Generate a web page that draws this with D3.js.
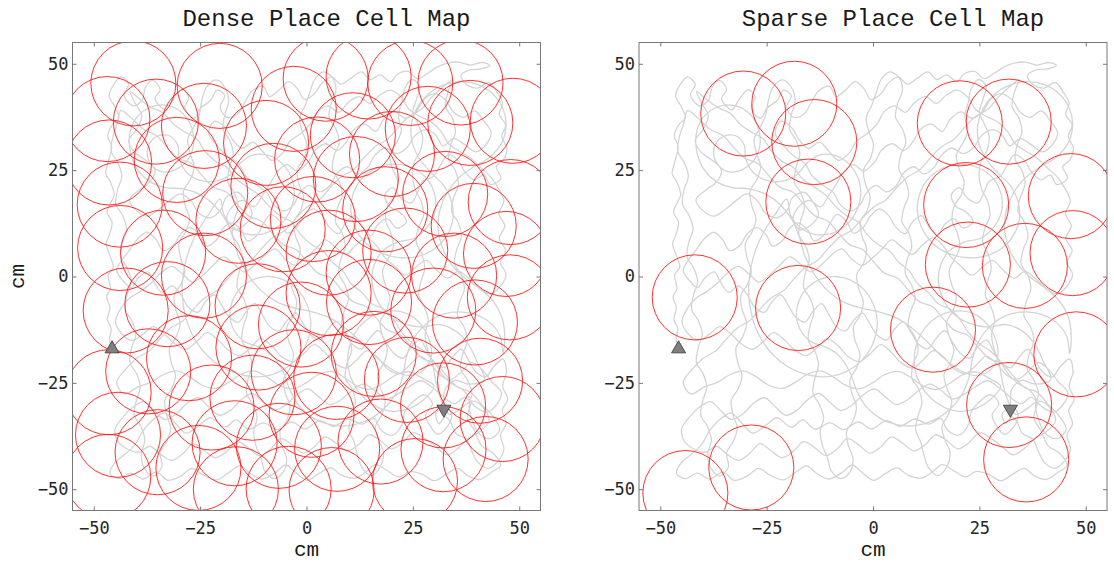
<!DOCTYPE html>
<html>
<head>
<meta charset="utf-8" />
<title>Place cell maps</title>
<script src="https://cdn.jsdelivr.net/npm/d3@7"></script>
<style>
    body { margin: 0; background: #fff; }
    .tick line { stroke: #777; }
    .tick text { font-family: "DejaVu Sans Mono", monospace; font-size: 17px; fill: #262626; }
    .title { font-family: "Liberation Mono", monospace; font-size: 24px; fill: #1a1a1a; }
    .label { font-family: "Liberation Mono", monospace; font-size: 21px; fill: #1a1a1a; }
</style>
</head>
<body>
<script>
// axis ticks (cm)
var tickValues = [-50, -25, 0, 25, 50];

// place field centres, dense map
var denseCells = [
    [-40.7,45.4],[-20.4,44.8],[4.5,46.5],[14.6,47.0],[24.4,45.5],[36.2,45.6],
    [-46.8,37.0],[-35.4,36.4],[-24.1,35.4],[-3.0,39.4],[-9.5,31.4],[10.9,33.2],[28.5,34.7],[38.5,36.1],[48.5,36.6],
    [-46.4,26.8],[-30.5,27.4],[2.5,27.5],[20.1,28.8],
    [-43.9,16.9],[-23.8,19.6],[-7.8,21.3],[11.6,22.9],[32.6,19.4],[48.0,17.5],[18.5,15.8],
    [-16.0,13.1],[-5.6,11.1],[1.5,13.5],[39.3,11.9],
    [-43.8,6.7],[-33.7,5.6],[5.2,5.6],[23.2,6.1],[46.9,5.3],
    [-24.1,0.2],[14.6,0.9],[34.7,0.2],
    [-42.5,-8.0],[-32.7,-6.5],[-11.5,-7.0],[5.2,-3.9],[29.8,-8.0],[47.8,-4.9],[14.7,-6.0],
    [-1.3,-11.3],[39.6,-10.8],
    [-27.6,-19.2],[-11.3,-16.7],[15.8,-18.2],
    [-37.2,-22.3],[-3.0,-22.5],[7.0,-23.6],[23.6,-24.3],[40.8,-24.5],
    [-46.5,-27.2],[-12.7,-28.5],
    [-22.3,-30.8],[1.2,-32.5],[32.1,-30.3],[46.1,-33.5],
    [-44.3,-37.2],[-35.0,-41.3],[-16.9,-39.2],[-6.5,-39.8],[7.2,-40.5],[17.4,-38.8],[32.2,-40.6],[42.1,-42.9],
    [-25.4,-45.0],[-46.6,-47.1],[25.5,-48.1],
    [-16.6,-50.0],[-4.2,-49.9],[5.9,-50.2]
];

// place field centres, sparse map
var sparseCells = [
    [-30.5,38.3],[-18.5,40.6],[-13.8,31.6],[-15.2,17.6],[20.4,36.0],[31.9,36.4],
    [21.9,16.8],[46.5,18.9],[22.3,2.8],[35.7,2.5],[46.9,5.5],
    [-41.9,-4.9],[-17.6,-7.4],[14.1,-12.5],[47.8,-18.3],
    [32.0,-30.2],[36.0,-43.0],[-28.6,-44.9],[-44.1,-50.9]
];

var fieldRadius = 10;

// start / end of the run
var startPoint = [-45.7, -17.0];
var endPoint = [32.3, -31.2];

// animal path (cm)
var trajectory = [
    [-45.7,-17.0],[-46.3,-14.9],[-45.9,-12.2],[-46.8,-10.1],[-46.2,-7.3],[-47.0,-4.8],[-46.1,-2.9],[-46.6,0.4],[-45.4,2.2],[-46.2,4.9],
    [-47.1,7.7],[-46.4,9.6],[-45.7,12.8],[-46.9,15.1],[-46.0,17.4],[-45.2,19.2],[-46.3,22.6],[-47.2,24.1],[-46.5,27.3],[-45.8,30.6],
    [-46.7,33.0],[-45.5,35.9],[-44.1,37.2],[-45.0,39.8],[-46.4,42.5],[-45.3,45.1],[-43.6,46.9],[-41.8,45.2],[-42.9,42.6],[-40.7,40.1],
    [-38.6,41.5],[-37.9,44.3],[-36.2,46.1],[-34.4,44.0],[-35.6,41.8],[-33.1,39.2],[-31.6,41.4],[-29.3,43.9],[-27.7,42.1],[-28.6,39.5],
    [-26.4,37.2],[-24.9,39.6],[-22.6,41.3],[-21.0,43.8],[-19.2,42.5],[-20.3,39.8],[-18.6,37.4],[-16.1,38.3],[-14.5,40.9],[-12.8,43.6],
    [-10.2,44.7],[-8.7,42.3],[-6.4,43.9],[-4.2,45.8],[-2.1,44.1],[-0.5,41.6],[1.8,42.9],[3.6,45.4],[5.9,46.9],[8.1,45.2],
    [10.4,46.6],[12.9,48.1],[15.0,46.3],[17.3,47.4],[19.8,45.8],[21.4,47.6],[23.9,48.2],[26.1,46.5],[28.4,47.7],[30.7,49.2],
    [32.9,50.1],[35.8,50.4],[38.6,49.7],[41.3,50.3],[43.1,49.6],[41.0,48.8],[38.2,48.5],[36.3,47.2],[37.8,45.0],[40.2,44.3],
    [42.9,45.6],[44.8,43.2],[46.1,40.7],[45.3,38.1],[46.8,35.6],[45.9,32.9],[47.1,30.2],[46.3,27.4],[44.6,25.8],[45.7,23.1],
    [43.2,21.6],[41.7,23.9],[39.4,22.7],[37.1,24.8],[35.6,27.3],[33.2,28.6],[31.5,26.1],[29.8,23.5],[27.3,22.4],[26.1,19.8],
    [24.6,17.3],[22.1,18.5],[20.3,20.9],[18.4,19.1],[19.6,16.4],[21.8,15.2],[23.5,12.9],[21.2,11.4],[19.0,13.6],[16.7,12.1],
    [15.2,9.6],[13.1,11.8],[11.4,14.3],[9.2,12.7],[7.6,10.1],[5.3,11.6],[3.8,14.2],[1.5,15.9],[-0.7,14.1],[-2.3,11.5],
    [-4.6,10.2],[-6.1,12.8],[-8.4,14.6],[-10.2,12.3],[-11.6,9.7],[-13.9,8.4],[-15.3,10.9],[-17.6,12.6],[-19.8,11.1],[-21.2,8.5],
    [-23.7,7.2],[-25.1,9.8],[-27.4,11.5],[-29.6,10.0],[-31.2,7.4],[-33.7,6.1],[-35.3,8.6],[-37.4,10.4],[-39.7,8.8],[-41.5,6.3],
    [-43.2,4.1],[-44.6,1.5],[-43.1,-1.0],[-41.2,-2.6],[-39.6,-0.4],[-37.3,1.1],[-35.8,-1.4],[-33.9,-3.7],[-31.6,-2.2],[-29.4,-4.5],
    [-27.9,-7.1],[-25.5,-8.4],[-23.8,-6.0],[-21.7,-4.3],[-19.9,-6.8],[-18.3,-9.4],[-16.0,-10.7],[-14.2,-8.3],[-12.1,-6.4],[-10.4,-8.9],
    [-8.8,-11.6],[-6.5,-12.8],[-4.6,-10.4],[-2.5,-8.6],[-0.8,-11.0],[0.9,-13.7],[3.2,-14.9],[5.0,-12.5],[7.1,-10.6],[8.9,-13.1],
    [10.6,-15.8],[12.9,-17.0],[14.8,-14.6],[16.9,-12.7],[18.6,-15.3],[20.4,-17.9],[22.7,-19.2],[24.5,-16.7],[26.7,-14.9],[28.3,-17.5],
    [30.1,-20.2],[32.4,-21.4],[34.3,-19.0],[36.4,-17.1],[38.1,-19.7],[39.8,-22.4],[42.1,-23.6],[44.0,-21.2],[46.2,-19.4],[47.0,-22.5],
    [46.1,-25.8],[47.3,-28.9],[46.0,-31.4],[46.9,-34.7],[45.6,-37.2],[46.4,-40.6],[44.9,-43.5],[42.7,-45.1],[40.4,-43.8],[38.9,-41.2],
    [37.6,-38.3],[35.1,-36.9],[33.8,-34.1],[32.5,-33.0],[31.2,-34.6],[30.4,-32.2],[32.9,-30.8],[34.1,-32.5],[33.0,-35.4],[30.8,-37.1],
    [29.2,-35.3],[28.0,-32.6],[29.6,-29.9],[27.7,-27.8],[25.3,-29.2],[23.1,-31.8],[22.4,-34.9],[20.2,-37.3],[17.5,-36.1],[15.9,-33.4],
    [13.1,-34.7],[9.8,-33.5],[6.4,-35.2],[3.1,-33.9],[-0.3,-35.8],[-3.5,-34.2],[-6.9,-36.0],[-10.1,-34.4],[-13.6,-35.9],[-16.5,-33.7],
    [-19.2,-35.4],[-22.6,-33.2],[-25.1,-34.9],[-28.3,-36.8],[-30.7,-34.6],[-33.4,-32.1],[-36.2,-33.8],[-38.5,-36.4],[-40.3,-39.5],[-42.6,-41.7],
    [-44.9,-43.6],[-46.2,-46.3],[-44.1,-47.5],[-41.3,-46.2],[-38.4,-47.6],[-35.2,-46.0],[-32.6,-47.9],[-29.4,-46.8],[-26.9,-45.1],[-24.2,-46.7],
    [-21.1,-47.8],[-18.4,-46.2],[-15.6,-44.5],[-13.2,-46.3],[-10.5,-47.6],[-7.3,-46.1],[-4.9,-44.3],[-2.6,-46.0],[0.1,-47.9],[2.8,-46.4],
    [5.7,-45.0],[8.2,-46.7],[11.4,-47.4],[14.0,-45.9],[16.3,-44.2],[18.9,-45.6],[21.8,-47.1],[24.3,-45.8],[27.4,-46.6],[30.0,-48.0],
    [32.8,-46.5],[35.5,-45.1],[38.0,-46.9],[40.8,-47.7],[43.5,-46.0],[45.6,-44.4],
    [43.8,-41.5],[41.2,-39.8],[39.6,-36.5],[37.8,-33.0],[38.6,-29.7],[36.9,-26.8],[34.0,-25.1],[31.6,-22.7],[29.9,-19.9],[27.4,-17.4],
    [25.0,-15.8],[22.3,-13.0],[20.6,-10.3],[18.1,-7.6],[15.3,-6.4],[13.2,-3.9],[10.5,-1.7],[8.6,1.2],[6.0,3.4],[3.8,6.1],
    [1.2,7.5],[-1.4,9.9],[-3.5,12.8],[-6.2,14.3],[-8.9,16.6],[-11.2,19.2],[-13.8,21.0],[-16.5,22.9],[-18.7,25.6],[-21.4,27.1],
    [-23.9,29.5],[-25.8,32.4],[-28.5,33.9],[-31.2,35.8],[-33.6,38.4],[-36.4,39.7],[-39.1,41.6],[-41.5,43.5],
    [-40.2,40.6],[-38.7,37.8],[-39.9,34.6],[-41.8,31.9],[-40.3,29.1],[-37.9,27.4],[-35.6,25.0],[-36.8,22.2],[-39.2,20.4],[-41.6,18.1],
    [-40.1,15.6],[-37.4,14.2],[-34.7,15.8],[-32.1,17.9],[-29.6,19.4],[-27.0,17.6],[-25.3,14.9],[-22.6,13.8],[-20.1,15.7],[-18.9,18.6],
    [-16.2,19.8],[-14.1,17.5],[-12.8,14.7],[-14.6,12.1],[-17.2,11.0],[-18.8,13.4],[-17.5,16.3],[-15.0,17.9],[-12.3,16.4],[-10.5,18.9],
    [-8.6,21.7],[-6.9,24.6],[-4.6,26.3],[-2.2,24.8],[0.4,26.9],[2.1,29.8],[4.6,31.2],[7.2,29.6],[9.4,31.7],[11.1,34.5],
    [13.7,35.8],[16.3,34.1],[18.1,36.9],[20.6,38.7],[23.3,37.2],[25.9,38.9],[27.6,41.6],[30.1,43.0],[32.8,41.4],[34.5,38.7],
    [36.9,37.4],[39.6,38.9],[41.7,36.5],[43.4,33.8],[42.1,30.9],[39.8,29.3],[37.2,31.0],[34.6,32.4],[32.1,30.7],[30.4,33.2],
    [28.0,34.5],[25.4,33.0],[23.7,30.4],[21.2,28.9],[18.5,30.2],[16.0,28.4],[14.4,25.7],[12.0,24.1],[9.6,25.8],[7.1,24.2],
    [5.6,21.5],[3.2,19.9],[0.7,21.4],[-1.6,19.6],[-3.0,16.9],[-5.4,15.4],[-7.8,17.0],[-9.3,19.7],[-11.8,21.5],[-14.4,23.8],
    [-16.0,26.6],[-18.6,28.3],[-21.1,30.9],[-23.0,33.7],[-21.6,36.5],[-19.1,35.0],[-17.4,32.2],[-15.2,30.1],[-12.6,31.6],[-10.3,29.4],
    [-8.1,27.3],[-5.6,29.0],[-3.9,31.8],[-1.5,33.5],[1.0,35.9],[2.6,38.7],[5.1,40.1],[7.6,38.6],[9.8,40.9],[12.3,42.3],
    [14.9,40.7],[17.2,42.6],[19.8,43.8],[22.4,42.0],[24.1,39.3],[26.7,37.6],[29.5,36.2],[31.7,34.0],[33.4,31.2],[35.9,29.5],
    [38.6,27.8],[40.9,25.6],[43.3,23.4],[45.1,20.7],[46.4,17.6],[45.2,14.8],[46.6,11.9],[45.3,9.0],[46.8,6.1],[45.6,3.3],
    [46.9,0.5],[45.5,-2.4],[43.2,-4.1],[40.6,-2.7],[38.3,-0.6],[35.7,1.2],[33.2,-0.4],[30.5,1.6],[28.1,3.8],[25.6,2.1],
    [23.2,0.3],[20.7,2.4],[18.3,4.6],[16.4,7.3],[14.1,9.1],[11.6,7.4],[9.3,5.2],[6.9,6.8],[4.4,8.6],[2.2,6.5],
    [-0.2,4.3],[-2.6,2.6],[-5.1,4.2],[-7.3,6.5],[-9.8,5.0],[-12.1,2.8],[-14.6,1.1],[-17.0,2.9],[-19.5,4.6],[-21.9,2.7],
    [-24.2,0.4],[-26.8,-1.3],[-29.1,0.6],[-31.7,2.4],[-34.2,0.8],[-36.6,-1.6],[-39.0,-3.5],[-41.6,-5.1],[-43.7,-7.6],[-44.9,-10.6],
    [-43.5,-13.4],[-41.1,-15.0],[-38.5,-13.6],[-36.0,-11.8],[-33.4,-13.5],[-31.0,-15.8],[-28.3,-17.1],[-25.9,-15.4],[-23.4,-13.2],[-20.8,-14.9],
    [-18.4,-17.3],[-15.7,-18.6],[-13.2,-16.8],[-10.8,-14.6],[-8.2,-16.3],[-5.9,-18.8],[-3.2,-20.0],[-0.7,-18.2],[1.8,-16.0],[4.3,-17.8],
    [6.6,-20.3],[9.3,-21.5],[11.8,-19.6],[14.2,-17.4],[16.8,-19.1],[19.0,-21.7],[21.7,-22.8],[24.2,-20.9],[26.6,-18.7],[29.1,-20.5],
    [31.3,-23.1],[33.9,-24.2],[36.4,-22.4],[38.8,-20.2],[41.4,-22.0],[43.5,-24.7],[45.8,-27.3],[44.6,-30.2],[42.3,-31.9],[39.7,-30.6],
    [37.2,-28.4],[34.8,-29.9],[32.2,-28.3],
    [29.6,-26.1],[26.9,-24.5],[24.1,-25.9],[21.5,-27.6],[18.7,-28.8],[16.2,-26.9],[13.4,-25.3],[10.7,-26.8],[8.2,-28.9],[5.5,-30.1],
    [2.9,-28.3],[0.3,-26.4],[-2.4,-27.9],[-4.9,-30.2],[-7.6,-31.5],[-10.1,-29.6],[-12.7,-27.5],[-15.4,-29.0],[-17.8,-31.4],[-20.5,-32.6],
    [-22.9,-30.7],[-25.5,-28.5],[-28.2,-29.9],[-30.6,-32.3],[-33.3,-33.6],[-35.7,-31.6],[-38.2,-29.4],[-40.9,-30.8],[-43.2,-33.1],[-45.0,-35.9],
    [-44.2,-38.9],[-42.0,-40.6],[-39.4,-41.3],[-36.8,-39.9],[-34.3,-41.8],[-31.7,-43.2],[-29.0,-41.6],[-26.6,-39.3],[-24.0,-40.9],[-21.4,-42.6],
    [-18.7,-41.1],[-16.3,-38.8],[-13.6,-40.3],[-11.1,-42.1],[-8.4,-40.5],[-6.0,-38.1],[-3.3,-39.6],[-0.8,-41.5],[1.9,-40.0],[4.3,-37.7],
    [7.0,-39.2],[9.6,-41.0],[12.3,-39.5],[14.7,-37.2],[17.4,-38.6],[20.0,-40.5],[22.6,-39.0],[25.1,-36.7],[27.8,-38.1],[30.4,-40.0],
    [32.9,-41.9],[35.6,-40.4],[38.0,-38.1],[40.7,-36.5],[42.9,-33.9],[41.4,-30.6],[38.9,-29.3],[36.3,-31.0],[33.6,-32.4],
    [31.9,-29.6],[30.8,-26.4],[30.1,-23.0],[29.5,-19.8],[28.4,-16.9],[27.9,-13.5],[28.6,-10.2],[27.7,-7.1],[26.4,-4.5],[26.9,-1.2],
    [27.8,1.9],[27.1,5.2],[25.8,8.1],[26.3,11.4],[27.5,14.3],[27.0,17.6],[25.6,20.4],[24.9,23.7],[25.4,27.0],[26.8,29.6],
    [27.3,32.9],[26.2,35.8],[25.0,38.6],[25.9,41.8],[26.6,44.7],
    [24.8,46.3],[23.1,44.2],[22.4,41.0],[21.6,37.6],[22.3,34.4],[21.1,31.3],[19.6,28.7],[20.2,25.4],[21.4,22.5],[20.8,19.2],
    [19.1,16.6],[18.6,13.2],[19.8,10.3],[20.4,7.0],[19.2,4.1],[17.9,1.4],[18.5,-1.9],[19.6,-4.8],[18.8,-8.0],[17.3,-10.7],
    [17.9,-14.0],[19.0,-17.1],[18.2,-20.3],[16.7,-23.0],[17.4,-26.3],[18.5,-29.2],[17.7,-32.5],[16.2,-35.2],[16.9,-38.4],[18.1,-41.3],
    [17.4,-44.6],
    [15.2,-46.8],[13.1,-45.0],[12.0,-42.1],[11.2,-38.9],[10.0,-36.0],[10.6,-32.7],[11.5,-29.6],[10.7,-26.4],[9.1,-23.8],[9.5,-20.5],
    [10.6,-17.5],[9.9,-14.2],[8.3,-11.6],[8.8,-8.3],[9.9,-5.3],[9.1,-2.1],[7.6,0.6],[8.0,3.9],[9.1,6.9],[8.4,10.2],
    [6.8,12.9],[7.3,16.2],[8.4,19.2],[7.6,22.5],[6.1,25.2],[6.5,28.5],[7.7,31.4],[6.9,34.7],[5.3,37.4],[5.8,40.7],
    [6.9,43.6],[6.2,46.6],
    [4.0,48.1],[1.9,46.3],[0.8,43.3],[-0.3,40.2],[-1.6,37.4],[-1.0,34.1],[0.1,31.1],[-0.6,27.8],[-2.2,25.1],[-1.8,21.8],
    [-0.7,18.8],[-1.4,15.5],[-3.0,12.8],[-2.6,9.5],[-1.5,6.5],[-2.2,3.2],[-3.8,0.5],[-3.4,-2.8],[-2.3,-5.8],[-3.0,-9.1],
    [-4.6,-11.8],[-4.2,-15.1],[-3.1,-18.1],[-3.8,-21.4],[-5.4,-24.1],[-5.0,-27.4],[-3.9,-30.4],[-4.6,-33.7],[-6.2,-36.4],[-5.8,-39.7],
    [-4.7,-42.7],[-5.4,-45.9],
    [-7.6,-47.5],[-9.8,-45.7],[-10.7,-42.6],[-11.9,-39.7],[-12.4,-36.3],[-11.6,-33.2],[-12.6,-30.1],[-14.1,-27.4],[-13.7,-24.0],[-12.8,-20.9],
    [-13.6,-17.7],[-15.2,-15.0],[-14.8,-11.6],[-13.9,-8.5],[-14.7,-5.3],[-16.3,-2.6],[-15.9,0.8],[-15.0,3.9],[-15.8,7.1],[-17.4,9.8],
    [-17.0,13.2],[-16.1,16.3],[-16.9,19.5],[-18.5,22.2],[-18.1,25.6],[-17.2,28.7],[-18.0,31.9],[-19.6,34.6],[-19.2,38.0],[-18.3,41.1],
    [-19.1,44.3],
    [-21.3,46.2],[-23.5,44.5],[-24.6,41.3],[-25.2,38.0],[-26.5,35.1],[-27.9,32.4],[-27.4,29.0],[-26.4,25.9],[-27.3,22.8],[-28.9,20.1],
    [-28.5,16.7],[-27.5,13.6],[-28.4,10.5],[-30.0,7.8],[-29.6,4.4],[-28.6,1.3],[-29.5,-1.8],[-31.1,-4.5],[-30.7,-7.9],[-29.7,-11.0],
    [-30.6,-14.1],[-32.2,-16.8],[-31.8,-20.2],[-30.8,-23.3],[-31.7,-26.4],[-33.3,-29.1],[-32.9,-32.5],[-31.9,-35.6],[-32.8,-38.7],[-34.4,-41.4],
    [-34.0,-44.8],
    [-36.1,-46.9],[-38.2,-44.9],[-38.8,-41.6],[-38.0,-38.5],[-38.9,-35.3],[-40.5,-32.6],[-40.0,-29.2],[-39.1,-26.1],[-39.9,-22.9],[-41.5,-20.2],
    [-41.1,-16.8],[-40.1,-13.7],[-41.0,-10.5],[-42.6,-7.8],[-42.2,-4.4],[-41.2,-1.3],[-42.1,1.9],[-43.7,4.6],[-43.3,8.0],[-42.3,11.1],
    [-43.2,14.3],[-44.8,17.0],[-44.4,20.4],[-43.4,23.5],[-44.3,26.7],[-45.9,29.4],[-45.5,32.8],[-44.5,35.9],[-43.6,39.0],
    [-41.1,37.2],[-38.3,34.6],[-35.2,33.1],[-32.8,30.4],[-30.1,27.8],[-27.0,26.5],[-24.5,23.7],[-21.9,21.0],[-18.8,19.8],[-16.3,17.0],
    [-13.7,14.3],[-10.6,13.0],[-8.1,10.2],[-5.5,7.5],[-2.4,6.3],[0.1,3.5],[2.7,0.8],[5.8,-0.4],[8.3,-3.2],[10.9,-5.9],
    [14.0,-7.1],[16.5,-9.9],[19.1,-12.6],[22.2,-13.8],[24.7,-16.6],[27.3,-19.3],[30.4,-20.5],[32.9,-23.3],[35.5,-26.0],[38.6,-27.2],
    [41.1,-30.0],[43.7,-32.7],[45.4,-36.0],
    [43.2,-38.1],[40.5,-36.9],[39.0,-33.9],[38.2,-30.5],[38.9,-27.4],[37.8,-24.3],[36.2,-21.6],[36.7,-18.3],[37.8,-15.3],[37.1,-12.0],
    [35.5,-9.3],[36.0,-6.0],[37.1,-3.0],[36.4,0.3],[34.8,3.0],[35.3,6.3],[36.4,9.3],[35.7,12.6],[34.1,15.3],[34.6,18.6],
    [35.7,21.6],[35.0,24.9],[33.4,27.6],[33.9,30.9],[35.0,33.9],[34.3,37.2],[32.7,39.9],[33.2,43.2],[34.3,46.2],
    [32.1,44.6],[29.4,42.1],[27.0,39.3],[24.1,37.6],[21.5,35.0],[19.0,32.2],[16.1,30.5],[13.5,27.9],[11.0,25.1],[8.1,23.4],
    [5.5,20.8],[3.0,18.0],[0.1,16.3],[-2.5,13.7],[-5.0,10.9],[-7.9,9.2],[-10.5,6.6],[-13.0,3.8],[-15.9,2.1],[-18.5,-0.5],
    [-21.0,-3.3],[-23.9,-5.0],[-26.5,-7.6],[-29.0,-10.4],[-31.9,-12.1],[-34.5,-14.7],[-37.0,-17.5],[-39.9,-19.2],[-42.5,-21.8],[-44.6,-24.9],
    [-42.8,-27.6],[-39.7,-26.0],[-36.6,-24.9],[-33.7,-23.1],[-30.5,-22.2],[-27.4,-23.6],[-24.6,-25.5],[-21.4,-26.3],[-18.3,-24.9],[-15.5,-23.0],
    [-12.3,-22.2],[-9.2,-23.7],[-6.4,-25.6],[-3.2,-26.4],[-0.1,-25.0],[2.7,-23.1],[5.9,-22.3],[9.0,-23.8],[11.8,-25.7],[15.0,-26.5],
    [18.1,-25.1],[20.9,-23.2],[24.1,-22.4],[27.2,-23.9],[30.0,-25.8],
    [27.6,-28.9],[24.3,-31.0],[20.6,-31.7],[16.9,-30.8],[13.6,-28.6],[11.1,-25.3],[9.8,-21.4],[9.9,-17.3],[11.2,-13.6],[13.7,-10.5],
    [17.0,-8.6],[20.9,-8.1],[24.5,-9.2],[27.3,-11.8],[29.0,-15.3],[29.3,-19.0],
    [27.4,-22.1],[24.2,-23.3],[20.5,-22.1],[16.8,-19.3],[13.2,-15.8],[9.5,-12.4],[5.6,-9.8],[1.4,-8.3],[-2.9,-7.4],[-7.1,-5.9],
    [-10.8,-3.2],[-13.7,0.4],[-15.9,4.5],[-17.2,8.9],[-18.9,13.1],[-21.6,16.7],[-25.1,19.3],[-29.0,20.6],[-33.1,20.9],[-36.8,22.3],
    [-39.7,25.1],[-41.3,28.9],[-41.6,33.1],[-40.2,37.0],[-37.1,39.6],[-33.2,40.3],[-29.6,38.8],[-27.2,35.6],[-26.5,31.6],[-27.6,27.9],
    [-30.4,25.3],[-33.8,24.6],[-36.6,26.5],[-37.4,29.8],[-35.7,32.6],[-32.6,33.2],[-30.3,31.0],[-29.9,27.6],[-28.1,24.4],[-25.0,22.6],
    [-21.3,22.4],[-17.9,23.9],[-15.4,26.8],[-12.4,28.6],[-8.7,28.4],[-5.5,26.3],[-3.4,22.9],[-2.9,18.9],[-4.1,15.0],[-6.5,11.9],
    [-9.9,10.1],[-13.7,9.9],[-17.1,11.5],[-19.4,14.5],[-20.3,18.2],
    [-22.8,14.9],[-25.3,11.1],[-27.3,7.0],[-28.6,2.6],[-29.2,-1.9],[-29.0,-6.5],[-28.0,-10.9],[-26.1,-15.0],[-23.4,-18.5],[-20.0,-21.2],
    [-16.1,-22.9],[-12.0,-23.6],[-7.9,-23.0],[-4.2,-21.1],[-1.3,-18.1],[0.5,-14.4],[1.0,-10.4],[0.1,-6.5],[-2.0,-3.2],[-5.1,-0.9],
    [-8.7,0.0],[-12.3,-0.6],[-15.4,-2.6],[-17.4,-5.7],[-18.0,-9.3],[-17.0,-12.7],[-14.6,-15.3],[-11.3,-16.5],
    [-8.0,-18.6],[-5.5,-22.4],[-3.9,-26.7],[-1.6,-30.6],[1.8,-33.4],[5.9,-34.9],[10.3,-35.0],[14.5,-33.7],[18.1,-31.2],[20.9,-27.7],
    [22.6,-23.6],[23.4,-19.2],[24.9,-15.1],[27.6,-11.6],[31.2,-9.2],[35.4,-8.3],[39.6,-8.9],[43.2,-10.9],[45.6,-14.2],[46.2,-18.1],
    [46.6,-13.9],[45.9,-9.5],[43.8,-5.7],[40.6,-2.8],[37.0,-0.2],[33.9,3.1],[31.8,7.1],[30.9,11.4],[31.4,15.8],[33.1,19.8],
    [35.8,23.2],[39.2,25.7],[42.9,27.9],[45.7,31.1],[46.9,35.1],[46.2,39.4],[43.8,42.9],[40.3,45.1],[36.2,45.8],[32.1,45.0],
    [28.5,42.8],[25.9,39.5],[24.6,35.5],[24.9,31.3],[26.7,27.5],[29.4,24.3],[32.4,21.2],[34.2,17.2],[34.3,12.9],[32.6,9.0],
    [29.5,6.1],[25.6,4.6],[21.4,4.5],[17.3,5.6],[13.8,8.0],[11.4,11.5],[10.4,15.6],[11.1,19.8],[13.3,23.3],[16.7,25.6],
    [20.8,26.4],[24.9,25.5],[28.2,23.1],[30.1,19.4],[30.2,15.3],[28.4,11.6],[25.3,9.0],[21.5,8.1],
    [18.1,6.2],[15.9,2.7],[15.4,-1.5],[16.6,-5.6],[19.2,-9.0],[22.9,-11.1],[27.1,-11.9],[31.3,-11.3],[35.2,-12.9],[38.1,-16.0],
    [40.0,-19.9],[41.8,-24.2],[38.2,-25.3],[34.9,-24.4],[32.6,-26.5],[32.3,-28.4],[32.3,-31.2]
];

var width = 1114,
    height = 566,
    plotTop = 42.5,
    plotSize = 468;

var panels = [
    {title: "Dense Place Cell Map", left: 72.5, cells: denseCells, ylabel: true},
    {title: "Sparse Place Cell Map", left: 639, cells: sparseCells, ylabel: false}
];

var x = d3.scaleLinear().domain([-55, 55]).range([0, plotSize]),
    y = d3.scaleLinear().domain([-55, 55]).range([plotSize, 0]);

var svg = d3.select("body").append("svg")
    .attr("width", width)
    .attr("height", height);

var line = d3.line()
    .curve(d3.curveCatmullRom.alpha(0.5))
    .x(function(d){ return x(d[0]); })
    .y(function(d){ return y(d[1]); });

panels.forEach(function(p, i){
    var g = svg.append("g")
        .attr("transform", "translate(" + p.left + "," + plotTop + ")");

    g.append("clipPath").attr("id", "clip" + i)
        .append("rect").attr("width", plotSize).attr("height", plotSize);

    var inner = g.append("g").attr("clip-path", "url(#clip" + i + ")");

    inner.append("path")
        .datum(trajectory)
        .attr("d", line)
        .attr("fill", "none")
        .attr("stroke", "#d4d4d4")
        .attr("stroke-width", 1.3)
        .attr("stroke-linejoin", "round");

    inner.selectAll("circle.field")
        .data(p.cells)
      .enter().append("circle")
        .attr("class", "field")
        .attr("cx", function(d){ return x(d[0]); })
        .attr("cy", function(d){ return y(d[1]); })
        .attr("r", x(fieldRadius) - x(0))
        .attr("fill", "none")
        .attr("stroke", "#ff1a1a")
        .attr("stroke-width", 0.9);

    var tri = d3.symbol().type(d3.symbolTriangle).size(85);
    g.append("path")
        .attr("d", tri)
        .attr("transform", "translate(" + x(startPoint[0]) + "," + y(startPoint[1]) + ")")
        .attr("fill", "#7f7f7f").attr("stroke", "#333").attr("stroke-width", 0.8);
    g.append("path")
        .attr("d", tri)
        .attr("transform", "translate(" + x(endPoint[0]) + "," + y(endPoint[1]) + ") rotate(180)")
        .attr("fill", "#7f7f7f").attr("stroke", "#333").attr("stroke-width", 0.8);

    // axes: ticks point inward, labels only bottom and left
    g.append("g").attr("transform", "translate(0," + plotSize + ")")
        .call(d3.axisBottom(x).tickValues(tickValues).tickSize(-4).tickPadding(11))
        .call(function(a){ a.select(".domain").remove(); });
    g.append("g")
        .call(d3.axisLeft(y).tickValues(tickValues).tickSize(-4).tickPadding(4))
        .call(function(a){ a.select(".domain").remove(); });
    g.append("g")
        .call(d3.axisTop(x).tickValues(tickValues).tickSize(-4).tickFormat(""))
        .call(function(a){ a.select(".domain").remove(); });
    g.append("g").attr("transform", "translate(" + plotSize + ",0)")
        .call(d3.axisRight(y).tickValues(tickValues).tickSize(-4).tickFormat(""))
        .call(function(a){ a.select(".domain").remove(); });

    g.append("rect")
        .attr("width", plotSize).attr("height", plotSize)
        .attr("fill", "none").attr("stroke", "#777").attr("stroke-width", 1);

    g.append("text")
        .attr("class", "title")
        .attr("x", plotSize / 2 + 20)
        .attr("y", 26 - plotTop)
        .attr("text-anchor", "middle")
        .text(p.title);

    g.append("text")
        .attr("class", "label")
        .attr("x", plotSize / 2)
        .attr("y", 556 - plotTop)
        .attr("text-anchor", "middle")
        .text("cm");

    if (p.ylabel) {
        g.append("text")
            .attr("class", "label")
            .attr("transform", "translate(" + (23.5 - p.left) + "," + (plotSize / 2) + ") rotate(-90)")
            .attr("text-anchor", "middle")
            .text("cm");
    }
});
</script>
</body>
</html>
